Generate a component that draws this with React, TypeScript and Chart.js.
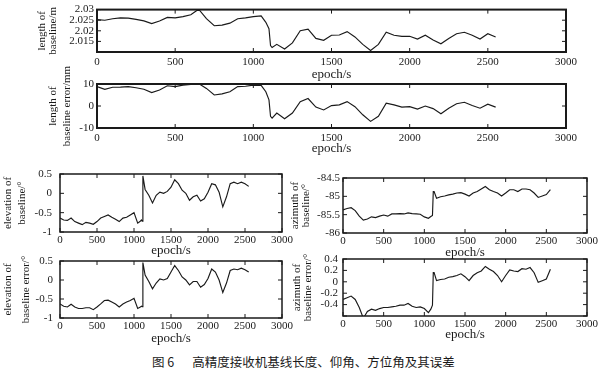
import React, { useEffect, useRef } from "react";
import { Chart, registerables } from "chart.js";

Chart.register(...registerables);

// ---- data ----
const epochs = [
  0, 50, 100, 150, 200, 250, 300, 350, 400, 450, 500, 550, 600, 650, 700, 750, 800, 850, 900, 950,
  1000, 1050, 1080, 1100, 1110, 1120, 1150, 1200, 1250, 1300, 1350, 1400, 1450, 1500, 1550, 1600,
  1650, 1700, 1750, 1800, 1850, 1900, 1950, 2000, 2050, 2100, 2150, 2200, 2250, 2300, 2350, 2400,
  2450, 2500, 2550,
];

const baselineLength = [
  2.0253, 2.025, 2.0257, 2.0261, 2.026, 2.0254, 2.0247, 2.0234, 2.0246, 2.0263, 2.0261, 2.0267,
  2.0276, 2.0302, 2.0257, 2.0224, 2.0227, 2.0236, 2.0257, 2.0261, 2.0267, 2.027, 2.024, 2.021,
  2.013, 2.0121, 2.0136, 2.0114, 2.0143, 2.02, 2.0208, 2.0164, 2.0155, 2.0179, 2.018, 2.0196,
  2.0171, 2.0136, 2.0107, 2.0136, 2.0193, 2.0179, 2.0174, 2.0174, 2.0161, 2.0179, 2.0157, 2.0139,
  2.0164, 2.0186, 2.0193, 2.0179, 2.0161, 2.0186, 2.0171,
];

const baselineLengthError = [
  8.8, 7.6, 8.5, 8.6, 8.8, 8.3, 7.6, 6.1, 7.3, 9.2, 8.8, 9.5, 9.8, 10.2, 8.0, 5.0, 5.5, 6.5, 8.8,
  9.0, 9.5, 9.4, 6.5, 2.8, -4.7, -5.5, -3.2, -5.8, -3.2, 2.0, 3.4, -0.5, -1.8, 0.2, 0.5, 2.0, -0.3,
  -4.0, -7.0, -4.7, 1.3, 0.5, -0.5, -0.3, -1.4, 0.0, -1.2, -3.5, -1.0, 1.0, 1.7, 0.2, -1.0, 0.8, -0.5,
];

const elevation = [
  -0.64, -0.69, -0.7, -0.64, -0.73, -0.77, -0.81, -0.75, -0.77, -0.8, -0.73, -0.64, -0.6, -0.56,
  -0.62, -0.67, -0.73, -0.64, -0.62, -0.56, -0.5, -0.77, -0.73, -0.69, -0.72, 0.45, 0.1, -0.05,
  -0.25, -0.05, 0.03, 0.0, 0.05, 0.16, 0.35, 0.25, 0.08, 0.0, -0.18, -0.09, -0.05, -0.2, -0.14,
  0.03, 0.25, 0.22, 0.03, -0.35, -0.09, 0.25, 0.29, 0.25, 0.29, 0.25, 0.18,
];

const azimuth = [
  -85.37, -85.33, -85.31, -85.39, -85.54, -85.65, -85.62, -85.56, -85.58, -85.54, -85.51, -85.54,
  -85.48, -85.48, -85.47, -85.48, -85.45, -85.47, -85.48, -85.49, -85.56, -85.6, -85.55, -85.52,
  -84.87, -84.87, -85.05, -85.01, -84.99, -84.96, -84.94, -84.91, -84.9, -84.94, -84.99, -84.91,
  -84.87, -84.8, -84.73, -84.82, -84.87, -84.91, -84.99, -84.91, -84.82, -84.82, -84.87, -84.8,
  -84.8, -84.82, -84.91, -85.03, -84.99, -84.95, -84.82,
];

const elevationError = [
  -0.63, -0.69, -0.71, -0.64, -0.71, -0.75, -0.75, -0.73, -0.73, -0.78, -0.71, -0.63, -0.54, -0.53,
  -0.58, -0.63, -0.71, -0.63, -0.58, -0.54, -0.48, -0.75, -0.72, -0.69, -0.7, 0.46, 0.13, -0.04,
  -0.23, -0.08, 0.03, 0.0, 0.04, 0.21, 0.38, 0.25, 0.08, 0.0, -0.13, -0.04, -0.04, -0.19, -0.12,
  0.04, 0.29, 0.21, 0.0, -0.33, -0.08, 0.25, 0.29, 0.27, 0.31, 0.27, 0.21,
];

const azimuthError = [
  -0.31, -0.28, -0.25, -0.31, -0.45, -0.64, -0.52, -0.48, -0.5, -0.47, -0.45, -0.45, -0.44, -0.43,
  -0.41, -0.41, -0.38, -0.43, -0.45, -0.44, -0.47, -0.54, -0.48, -0.41, 0.16, 0.16, 0.02, 0.04,
  0.05, 0.08, 0.09, 0.11, 0.14, 0.09, 0.02, 0.11, 0.16, 0.19, 0.27, 0.22, 0.18, 0.11, 0.0, 0.11,
  0.21, 0.19, 0.18, 0.23, 0.22, 0.25, 0.16, -0.01, 0.02, 0.05, 0.22,
];

const xTitle = "epoch/s";
const caption = "高精度接收机基线长度、仰角、方位角及其误差";
const figureLabel = "图 6";

const FONT = "'Liberation Serif', 'Times New Roman', serif";
const INK = "#1a1a1a";

type Spec = {
  left: number; top: number; width: number; height: number;
  padTop: number; padRight: number; yWidth: number; xHeight: number;
  yMin: number; yMax: number; yStep: number; hide?: number[]; decimals: number;
  yTitle: string[]; yTitleX: number[]; yTickPad: number;
  xTickPad: number; xTitlePad: number; frame: number; values: number[];
};

const framePlugin = {
  id: "frameBox",
  afterDatasetsDraw(chart: any, _args: any, opts: any) {
    const { ctx, chartArea } = chart;
    const { left, right, top, bottom } = chartArea;
    const xs = chart.scales.x;
    const ys = chart.scales.y;
    ctx.save();
    ctx.strokeStyle = INK;
    ctx.lineWidth = 1;
    const L = 4;
    const seg = (a: number, b: number, c: number, d: number) => {
      ctx.beginPath();
      ctx.moveTo(a, b);
      ctx.lineTo(c, d);
      ctx.stroke();
    };
    xs.ticks.forEach((t: any) => {
      const px = xs.getPixelForValue(t.value);
      seg(px, bottom, px, bottom - L);
      seg(px, top, px, top + L);
    });
    ys.ticks.forEach((t: any) => {
      const py = ys.getPixelForValue(t.value);
      seg(left, py, left + L, py);
      seg(right, py, right - L, py);
    });
    ctx.lineWidth = opts.lw || 1.5;
    ctx.strokeRect(left, top, right - left, bottom - top);

    // rotated y-axis title lines (no width squeezing)
    const lines: string[] = opts.lines || [];
    const xsPos: number[] = opts.xs || [];
    const cy = (top + bottom) / 2;
    ctx.fillStyle = INK;
    ctx.font = `11px ${FONT}`;
    ctx.textAlign = "center";
    ctx.textBaseline = "middle";
    lines.forEach((line, i) => {
      ctx.save();
      ctx.translate(xsPos[i], cy);
      ctx.rotate(-Math.PI / 2);
      ctx.fillText(line, 0, 0);
      ctx.restore();
    });
    ctx.restore();
  },
};

function Panel({ spec }: { spec: Spec }) {
  const ref = useRef<HTMLCanvasElement | null>(null);
  useEffect(() => {
    if (!ref.current) return;
    const pts = epochs.map((e, i) => ({ x: e, y: spec.values[i] }));
    const chart = new Chart(ref.current, {
      type: "line",
      data: {
        datasets: [
          {
            data: pts,
            borderColor: INK,
            borderWidth: 1.15,
            pointRadius: 0,
            tension: 0,
            fill: false,
            clip: 0,
          } as any,
        ],
      },
      options: {
        animation: false,
        responsive: false,
        maintainAspectRatio: false,
        devicePixelRatio: 1,
        layout: { padding: { top: spec.padTop, right: spec.padRight, left: 0, bottom: 0 } },
        plugins: {
          legend: { display: false },
          tooltip: { enabled: false },
          frameBox: { lw: spec.frame, lines: spec.yTitle, xs: spec.yTitleX },
        } as any,
        scales: {
          x: {
            type: "linear",
            min: 0,
            max: 3000,
            afterFit: (s: any) => {
              s.height = spec.xHeight;
            },
            grid: { display: false, drawTicks: false },
            border: { display: false },
            ticks: {
              stepSize: 500,
              padding: spec.xTickPad,
              autoSkip: false,
              maxRotation: 0,
              color: INK,
              font: { family: FONT, size: 11 },
              callback: (v: any) => String(v),
            },
            title: {
              display: true,
              text: xTitle,
              color: INK,
              font: { family: FONT, size: 13, lineHeight: 1 },
              padding: { top: 0, bottom: spec.xTitlePad },
            },
          },
          y: {
            type: "linear",
            min: spec.yMin,
            max: spec.yMax,
            afterFit: (s: any) => {
              s.width = spec.yWidth;
            },
            grid: { display: false, drawTicks: false },
            border: { display: false },
            ticks: {
              stepSize: spec.yStep,
              padding: spec.yTickPad,
              autoSkip: false,
              color: INK,
              font: { family: FONT, size: 11 },
              callback: (v: any) => {
                const n = Number(v);
                if (spec.hide && spec.hide.some((h) => Math.abs(h - n) < 1e-6)) return "";
                let r = parseFloat(n.toFixed(spec.decimals));
                if (Object.is(r, -0)) r = 0;
                return String(r);
              },
            },
            title: { display: false },
          },
        },
      } as any,
      plugins: [framePlugin as any],
    });
    return () => chart.destroy();
  }, [spec]);
  return (
    <canvas
      ref={ref}
      width={spec.width}
      height={spec.height}
      style={{
        position: "absolute",
        left: spec.left,
        top: spec.top,
        width: spec.width,
        height: spec.height,
      }}
    />
  );
}

const specs: Spec[] = [
  {
    left: 0, top: 0, width: 600, height: 82, padTop: 6, padRight: 34, yWidth: 97, xHeight: 30,
    yMin: 2.01, yMax: 2.03, yStep: 0.005, hide: [2.01], decimals: 3,
    yTitle: ["length of", "baseline/m"], yTitleX: [42, 53], yTickPad: 3,
    xTickPad: 4, xTitlePad: 1, frame: 2, values: baselineLength,
  },
  {
    left: 0, top: 58, width: 600, height: 100, padTop: 26, padRight: 34, yWidth: 97, xHeight: 30,
    yMin: -10, yMax: 10, yStep: 10, decimals: 0,
    yTitle: ["length of", "baseline error/mm"], yTitleX: [53, 67], yTickPad: 3,
    xTickPad: 4, xTitlePad: 2.5, frame: 2, values: baselineLengthError,
  },
  {
    left: 0, top: 156, width: 300, height: 102, padTop: 18, padRight: 18, yWidth: 60, xHeight: 26,
    yMin: -1, yMax: 0.5, yStep: 0.5, decimals: 1,
    yTitle: ["elevation of", "baseline/°"], yTitleX: [8, 22], yTickPad: 8,
    xTickPad: 2, xTitlePad: 0.5, frame: 1.5, values: elevation,
  },
  {
    left: 290, top: 160, width: 310, height: 99, padTop: 18, padRight: 13, yWidth: 53, xHeight: 26,
    yMin: -86, yMax: -84.5, yStep: 0.5, decimals: 1,
    yTitle: ["azimuth of", "baseline/°"], yTitleX: [5, 16], yTickPad: 3,
    xTickPad: 2, xTitlePad: 0, frame: 1.5, values: azimuth,
  },
  {
    left: 0, top: 243, width: 300, height: 102, padTop: 18, padRight: 18, yWidth: 60, xHeight: 27,
    yMin: -1, yMax: 0.5, yStep: 0.5, decimals: 1,
    yTitle: ["elevation of", "baseline error/°"], yTitleX: [8, 26], yTickPad: 7,
    xTickPad: 2, xTitlePad: 0, frame: 1.5, values: elevationError,
  },
  {
    left: 290, top: 241, width: 310, height: 100, padTop: 18, padRight: 13, yWidth: 53, xHeight: 25,
    yMin: -0.6, yMax: 0.4, yStep: 0.2, hide: [-0.6], decimals: 1,
    yTitle: ["azimuth of", "baseline error/°"], yTitleX: [7, 18], yTickPad: 5,
    xTickPad: 2, xTitlePad: 0, frame: 1.5, values: azimuthError,
  },
];

export default function App() {
  return (
    <div
      style={{
        position: "fixed",
        left: 0,
        top: 0,
        width: 600,
        height: 380,
        background: "#ffffff",
        overflow: "hidden",
      }}
    >
      {specs.map((s, i) => (
        <Panel key={i} spec={s} />
      ))}
      <div
        style={{
          position: "absolute",
          left: 152,
          top: 354,
          fontFamily: "'Noto Sans CJK SC', sans-serif",
          fontSize: 12.5,
          color: INK,
          whiteSpace: "nowrap",
          lineHeight: "16px",
        }}
      >
        <span>{figureLabel}</span>
        <span style={{ marginLeft: 18 }}>{caption}</span>
      </div>
    </div>
  );
}
